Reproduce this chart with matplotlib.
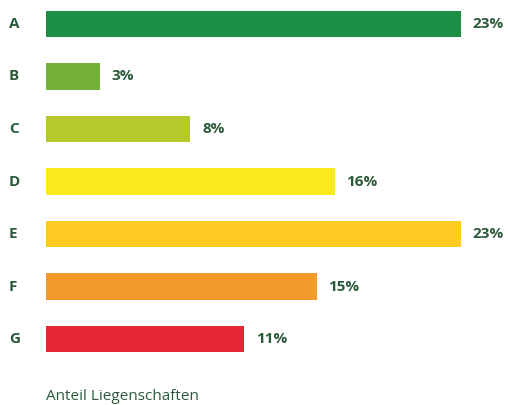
import matplotlib.pyplot as plt
from matplotlib.transforms import blended_transform_factory

# energy classes and share of properties (%)
classes = ["A", "B", "C", "D", "E", "F", "G"]
shares = [23, 3, 8, 16, 23, 15, 11]
colors = ["#1b8f45", "#73b237", "#b6c92b", "#fcea21", "#fdcb22", "#f29a2b", "#e52735"]
text_color = "#2b5a3a"

plt.rcParams["font.family"] = ["Open Sans", "DejaVu Sans"]

fig = plt.figure(figsize=(5.08, 4.05), dpi=100)
ax = fig.add_axes([46 / 508, 35 / 405, 462 / 508, 370 / 405])

y = list(range(len(classes)))
ax.barh(y, shares, height=0.5, color=colors)

for yi, v in zip(y, shares):
    ax.text(v + 0.65, yi, f"{v}%", va="center", ha="left",
            fontsize=11, fontweight="bold", color=text_color)

# class letters on the left edge of the figure
trans = blended_transform_factory(fig.transFigure, ax.transData)
for yi, c in zip(y, classes):
    ax.text(9 / 508, yi, c, transform=trans, va="center", ha="left",
            fontsize=11, fontweight="bold", color=text_color)

ax.set_xlim(0, 462 / 18.04)
ax.set_ylim(6.59, -0.457)
ax.axis("off")

fig.text(46 / 508, 9 / 405, "Anteil Liegenschaften", va="center", ha="left",
         fontsize=11, color=text_color)

fig.savefig("out.png", dpi=100)
